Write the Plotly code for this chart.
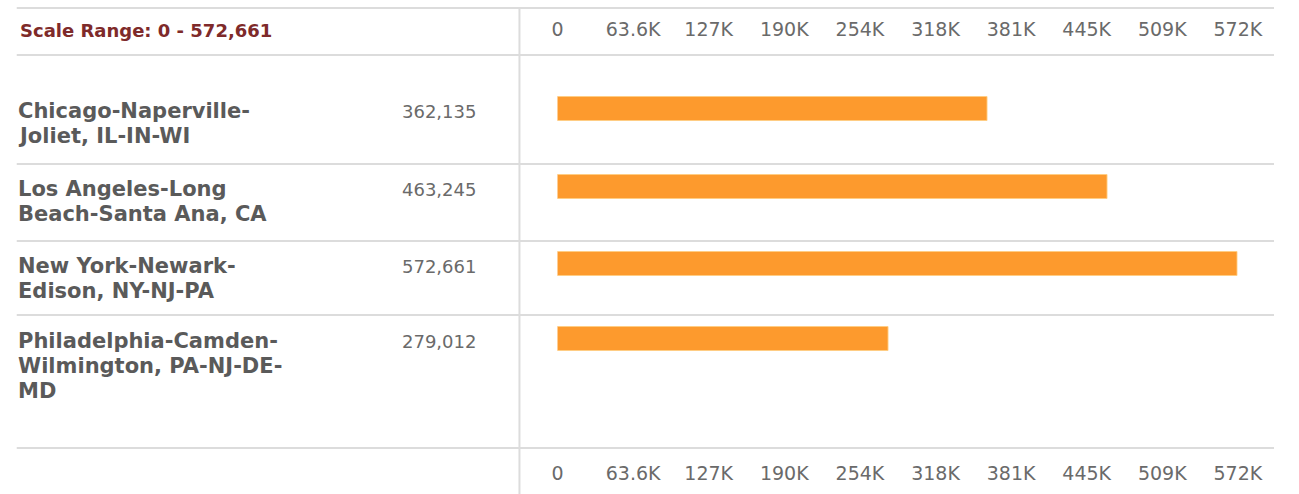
import plotly.graph_objects as go

# ---------------- data ----------------
CATEGORIES = [
    "Chicago-Naperville-Joliet, IL-IN-WI",
    "Los Angeles-Long Beach-Santa Ana, CA",
    "New York-Newark-Edison, NY-NJ-PA",
    "Philadelphia-Camden-Wilmington, PA-NJ-DE-MD",
]
LABEL_LINES = [
    ["Chicago-Naperville-", "Joliet, IL-IN-WI"],
    ["Los Angeles-Long", "Beach-Santa Ana, CA"],
    ["New York-Newark-", "Edison, NY-NJ-PA"],
    ["Philadelphia-Camden-", "Wilmington, PA-NJ-DE-", "MD"],
]
VALUES = [362135, 463245, 572661, 279012]
TICK_LABELS = ["0", "63.6K", "127K", "190K", "254K", "318K", "381K", "445K", "509K", "572K"]

SCALE_MAX = max(VALUES)

# ---------------- layout geometry (pixels) ----------------
W, H = 1299, 494
ROW_TOPS = [86, 164, 241, 316]          # top of each row's content
H_LINES = [8, 55, 164, 241, 315, 448]   # table rule positions
V_LINE_X = 526
PLOT_LEFT, PLOT_RIGHT = 565, 1262
PLOT_TOP, PLOT_BOTTOM = 55, 448
BAR_THICK = 24
LINE_GAP = 25

def fx(p):
    return p / W

def fy(p):
    return 1 - p / H

BAR_COLOR = "#FD9A2D"
GRID = "#DCDCDC"
TXT = "#5A5A5A"
VAL_TXT = "#6A6A6A"
TITLE_RED = "#7E2A2A"
FONT = "DejaVu Sans"

tickvals = [SCALE_MAX * i / (len(TICK_LABELS) - 1) for i in range(len(TICK_LABELS))]

fig = go.Figure()
fig.add_trace(go.Bar(
    x=VALUES,
    y=[rt + BAR_THICK / 2 + 11 for rt in ROW_TOPS],
    orientation="h",
    width=BAR_THICK,
    marker=dict(color=BAR_COLOR, line=dict(color="rgba(255,205,130,0.9)", width=1)),
    hovertext=CATEGORIES,
    hoverinfo="text+x",
    xaxis="x", yaxis="y",
))
# invisible trace to carry the top axis
fig.add_trace(go.Scatter(x=[0, SCALE_MAX], y=[PLOT_TOP, PLOT_TOP], mode="markers",
                         marker=dict(opacity=0), hoverinfo="skip",
                         xaxis="x2", yaxis="y"))

shapes = []
for yl in H_LINES:
    shapes.append(dict(type="line", xref="paper", yref="paper",
                       x0=fx(11), x1=1, y0=fy(yl), y1=fy(yl),
                       line=dict(color=GRID, width=2), layer="below"))
shapes.append(dict(type="line", xref="paper", yref="paper",
                   x0=fx(V_LINE_X), x1=fx(V_LINE_X), y0=fy(8), y1=0,
                   line=dict(color=GRID, width=2), layer="below"))

annotations = [dict(
    text=f"Scale Range: 0 - {SCALE_MAX:,}",
    xref="paper", yref="paper", x=fx(12), y=fy(30),
    xanchor="left", yanchor="middle", showarrow=False,
    font=dict(family=FONT, size=18, color=TITLE_RED, weight="bold"),
)]
for rt, lines, v in zip(ROW_TOPS, LABEL_LINES, VALUES):
    for i, ln in enumerate(lines):
        annotations.append(dict(
            text=ln, xref="paper", yref="paper",
            x=fx(10), y=fy(rt + 11 + i * LINE_GAP),
            xanchor="left", yanchor="top", showarrow=False,
            font=dict(family=FONT, size=21, color=TXT, weight="bold"),
        ))
    annotations.append(dict(
        text=f"{v:,}", xref="paper", yref="paper",
        x=fx(484), y=fy(rt + 13),
        xanchor="right", yanchor="top", showarrow=False,
        font=dict(family=FONT, size=18, color=VAL_TXT),
    ))

axis_common = dict(
    domain=[fx(PLOT_LEFT), fx(PLOT_RIGHT)],
    range=[0, SCALE_MAX],
    tickmode="array", tickvals=tickvals, ticktext=TICK_LABELS,
    ticks="", showgrid=False, zeroline=False, showline=False,
    tickfont=dict(family=FONT, size=19, color=VAL_TXT),
    fixedrange=True,
)

fig.update_layout(
    width=W, height=H,
    autosize=False,
    margin=dict(l=0, r=0, t=0, b=0),
    paper_bgcolor="white", plot_bgcolor="rgba(0,0,0,0)",
    showlegend=False,
    xaxis=dict(**axis_common, anchor="y", side="bottom", ticklabelstandoff=12),
    xaxis2=dict(**axis_common, anchor="y", side="top", overlaying="x", ticklabelstandoff=14),
    yaxis=dict(domain=[fy(PLOT_BOTTOM), fy(PLOT_TOP)], range=[PLOT_BOTTOM, PLOT_TOP],
               visible=False, fixedrange=True),
    shapes=shapes,
    annotations=annotations,
    bargap=0,
)

fig.write_html(
    "out.html",
    config={"responsive": False, "displayModeBar": False},
    post_script=(
        "document.body.style.margin='0';"
        "document.body.style.overflow='hidden';"
        "Plotly.relayout('{plot_id}', {width: %d, height: %d});" % (W, H)
    ),
)
